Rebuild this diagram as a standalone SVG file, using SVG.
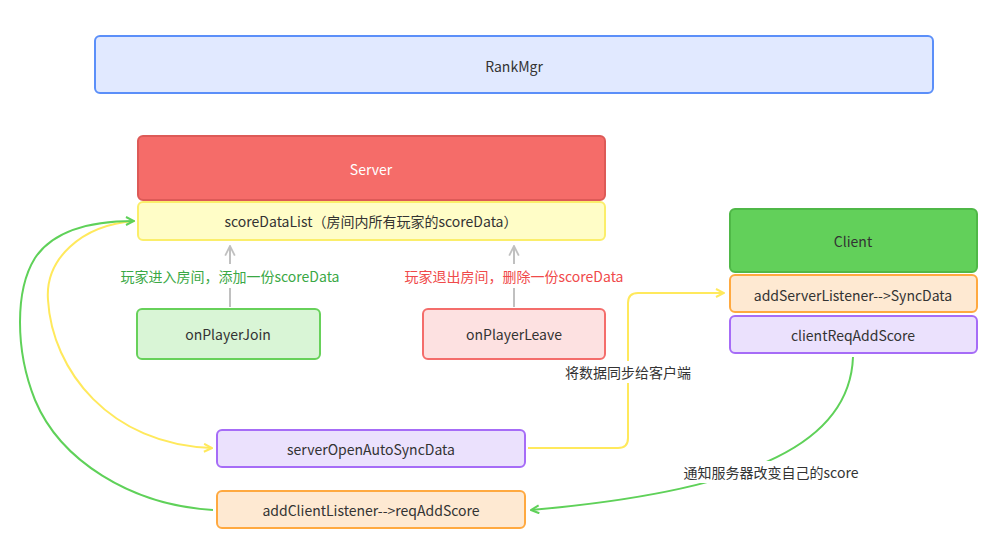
<svg xmlns="http://www.w3.org/2000/svg" width="995" height="547" viewBox="0 0 995 547">
<style>
text{font-family:"Noto Sans CJK SC","Noto Sans",sans-serif;font-size:14px;fill:#333;text-anchor:middle;dominant-baseline:central}
.box{stroke-width:2}
.lbl-bg{fill:#fff}
</style>
<defs>
<marker id="ay" viewBox="0 0 10 10" refX="9" refY="5" markerWidth="10" markerHeight="10" markerUnits="userSpaceOnUse" orient="auto"><path d="M1,1 L9,5 L1,9" fill="none" stroke="#ffe95c" stroke-width="2"/></marker>
<marker id="ag" viewBox="0 0 10 10" refX="9" refY="5" markerWidth="10" markerHeight="10" markerUnits="userSpaceOnUse" orient="auto"><path d="M1,1 L9,5 L1,9" fill="none" stroke="#5fd159" stroke-width="2"/></marker>
<marker id="ar" viewBox="0 0 10 10" refX="9" refY="5" markerWidth="12" markerHeight="12" markerUnits="userSpaceOnUse" orient="auto"><path d="M1,1 L9,5 L1,9" fill="none" stroke="#c0c0c0" stroke-width="1.5"/></marker>
</defs>
<rect width="995" height="547" fill="#fff"/>

<g id="connectors" fill="none">
<path d="M230,307 L230,246" stroke="#c0c0c0" stroke-width="2" marker-end="url(#ar)"/>
<path d="M514,307 L514,246" stroke="#c0c0c0" stroke-width="2" marker-end="url(#ar)"/>
<path d="M135,221 C80,225 45,260 48,300 C52,370 110,445 212,448" stroke="#ffe95c" stroke-width="2" marker-end="url(#ay)"/>
<path d="M213,510 C130,505 60,460 35,400 C15,350 15,290 35,258 C55,228 95,221 134,221" stroke="#5fd159" stroke-width="2" marker-end="url(#ag)"/>
<path d="M528,448 L618,448 Q628,448 628,438 L628,303 Q628,293 638,293 L724,293" stroke="#ffe95c" stroke-width="2" marker-end="url(#ay)"/>
<path d="M853,357 C850,440 760,490 531,510" stroke="#5fd159" stroke-width="2" marker-end="url(#ag)"/>
<rect class="lbl-bg" x="110" y="264" width="240" height="24"/>
<text x="230" y="276" style="fill:#3aa845">玩家进入房间，添加一份scoreData</text>
<rect class="lbl-bg" x="394" y="264" width="240" height="24"/>
<text x="514" y="276" style="fill:#f04a4a">玩家退出房间，删除一份scoreData</text>
<rect class="lbl-bg" x="560" y="361" width="136" height="22"/>
<text x="628" y="372">将数据同步给客户端</text>
<rect class="lbl-bg" x="682" y="461" width="180" height="22"/>
<text x="771" y="472">通知服务器改变自己的score</text>
</g>

<g id="rankmgr"><rect class="box" x="95" y="36" width="838" height="57" rx="5" fill="#e1e9ff" stroke="#5b8ff9"/><text x="514" y="66">RankMgr</text></g>
<g id="server"><rect class="box" x="138" y="136" width="467" height="64" rx="5" fill="#f56c69" stroke="#dd5a57"/><text x="371" y="169" style="fill:#fff">Server</text></g>
<g id="scoreDataList"><rect class="box" x="138" y="202" width="467" height="38" rx="5" fill="#fffdc7" stroke="#fbee6a"/><text x="371" y="221">scoreDataList（房间内所有玩家的scoreData）</text></g>
<g id="onPlayerJoin"><rect class="box" x="137" y="309" width="183" height="50" rx="5" fill="#d9f5d6" stroke="#67d15a"/><text x="228" y="334">onPlayerJoin</text></g>
<g id="onPlayerLeave"><rect class="box" x="423" y="309" width="182" height="50" rx="5" fill="#fde1e1" stroke="#f46d6b"/><text x="514" y="334">onPlayerLeave</text></g>
<g id="client"><rect class="box" x="730" y="209" width="247" height="63" rx="5" fill="#62d05a" stroke="#4fb847"/><text x="853" y="241">Client</text></g>
<g id="addServerListener"><rect class="box" x="730" y="275" width="247" height="37" rx="5" fill="#fee9d2" stroke="#ffa940"/><text x="853" y="295">addServerListener--&gt;SyncData</text></g>
<g id="clientReqAddScore"><rect class="box" x="730" y="316" width="247" height="37" rx="5" fill="#ebe1fd" stroke="#a66cf7"/><text x="853" y="335">clientReqAddScore</text></g>
<g id="serverOpenAutoSyncData"><rect class="box" x="217" y="430" width="308" height="37" rx="5" fill="#ebe1fd" stroke="#a66cf7"/><text x="371" y="449">serverOpenAutoSyncData</text></g>
<g id="addClientListener"><rect class="box" x="217" y="491" width="308" height="37" rx="5" fill="#fee9d2" stroke="#ffa940"/><text x="371" y="510">addClientListener--&gt;reqAddScore</text></g>
</svg>
